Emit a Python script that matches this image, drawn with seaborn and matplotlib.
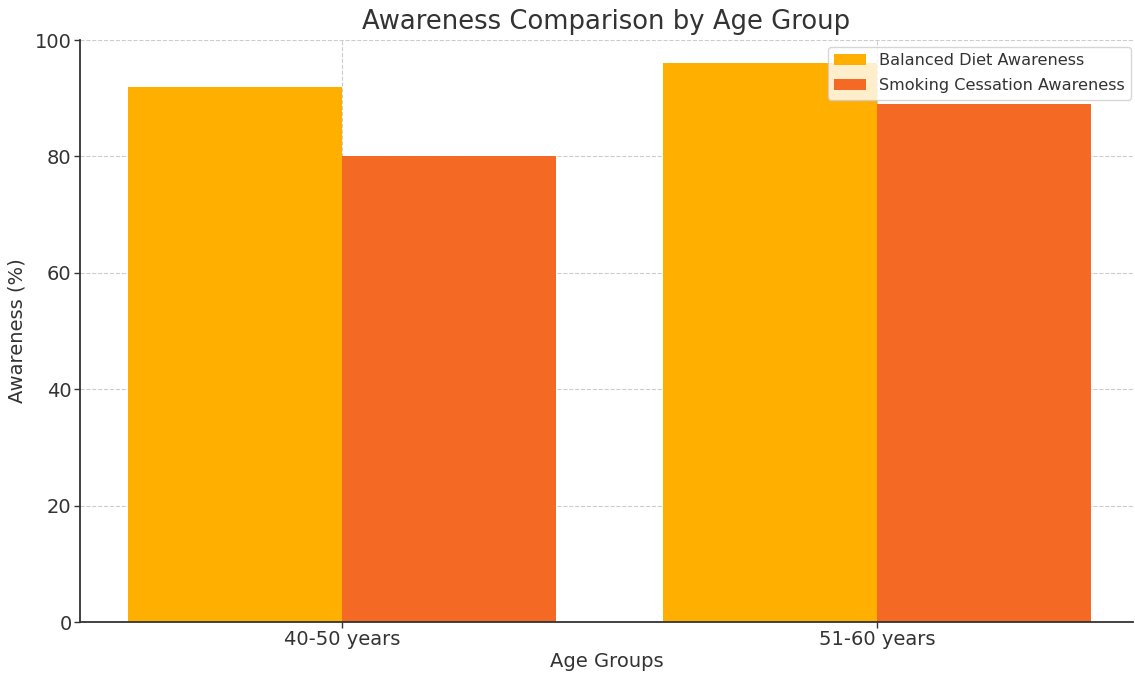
import matplotlib
matplotlib.use("Agg")
import matplotlib.pyplot as plt
import seaborn as sns
import pandas as pd

age_groups = ["40-50 years", "51-60 years"]
balanced_diet = [92, 96]
smoking_cessation = [80, 89]
series_names = ["Balanced Diet Awareness", "Smoking Cessation Awareness"]
colors = ["#FFAF00", "#F46A25"]

df = pd.DataFrame({
    "Age Groups": age_groups * 2,
    "Awareness": balanced_diet + smoking_cessation,
    "Series": [series_names[0]] * 2 + [series_names[1]] * 2,
})

sns.set_style("white")
plt.rcParams["font.family"] = ["DejaVu Sans"]
text_color = "#333333"
plt.rcParams["text.color"] = text_color
plt.rcParams["axes.labelcolor"] = text_color
plt.rcParams["xtick.color"] = text_color
plt.rcParams["ytick.color"] = text_color

fig = plt.figure(figsize=(11.35, 6.78), dpi=100)
ax = fig.add_axes([80 / 1135, 56 / 678, 1053 / 1135, 582 / 678])

sns.barplot(data=df, x="Age Groups", y="Awareness", hue="Series",
            hue_order=series_names, palette=colors, width=0.8,
            linewidth=0, saturation=1, ax=ax, zorder=2)

ax.set_xlim(-0.49, 1.478)
ax.set_ylim(0, 100)
ax.set_yticks([0, 20, 40, 60, 80, 100])
ax.grid(True, linestyle="--", color="#cccccc", linewidth=0.8, zorder=0)
ax.set_axisbelow(True)

ax.set_title("Awareness Comparison by Age Group", fontsize=18.6, color=text_color, pad=8)
ax.set_xlabel("Age Groups", fontsize=14, labelpad=2)
ax.set_ylabel("Awareness (%)", fontsize=14, labelpad=6)
ax.tick_params(axis="both", labelsize=14, length=4, width=1, pad=2,
               direction="out", bottom=True, left=True, color="#333333")

for side in ["top", "right"]:
    ax.spines[side].set_visible(False)
for side in ["left", "bottom"]:
    ax.spines[side].set_color("#333333")
    ax.spines[side].set_linewidth(1.3)

leg = ax.legend(loc="upper right", fontsize=11.6, frameon=True, framealpha=0.8,
                edgecolor="#cccccc", bbox_to_anchor=(0.9985, 0.988),
                borderaxespad=0, labelspacing=0.6)
leg.set_title(None)

fig.savefig("out.png", dpi=100)
